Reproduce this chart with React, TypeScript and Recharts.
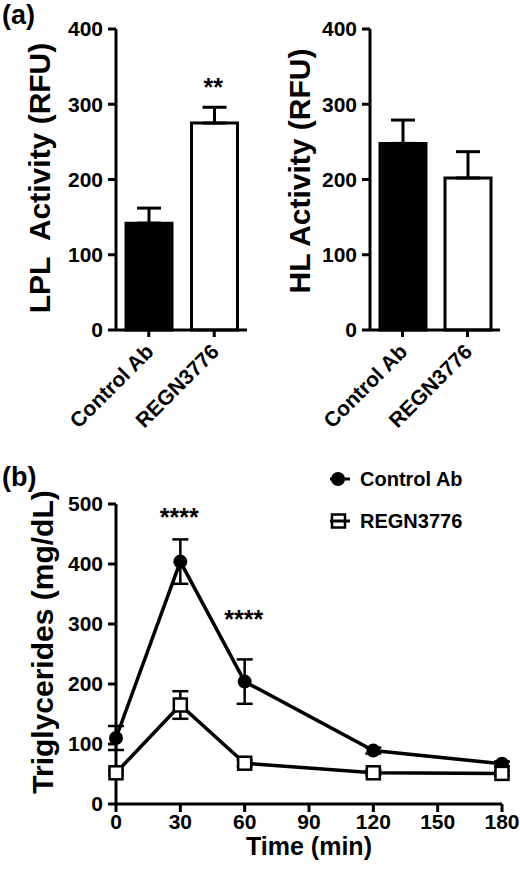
import React from "react";
import {
  BarChart,
  Bar,
  Cell,
  XAxis,
  YAxis,
  ErrorBar,
  ReferenceDot,
  LineChart,
  Line,
} from "recharts";

// panel (a)
const groups = ["Control Ab", "REGN3776"];
const groupFills = ["#000000", "#ffffff"];
const lplMean = [142, 275];
const lplSem = [20, 21];
const lplStars = ["", "**"];
const hlMean = [248, 202];
const hlSem = [31, 35];
const activityTicks = [0, 100, 200, 300, 400];

// panel (b)
const times = [0, 30, 60, 120, 180];
const controlTg = [110, 404, 204, 89, 67];
const controlErr = [20, 37, 37, 5, 4];
const regnTg = [52, 165, 68, 52, 51];
const regnErr = [4, 23, 5, 4, 4];
const timeTicks = [0, 30, 60, 90, 120, 150, 180];
const tgTicks = [0, 100, 200, 300, 400, 500];
const starTimes = [30, 60];
const starLevels = [482, 312];
const seriesNames = ["Control Ab", "REGN3776"];
const seriesShapes = ["circle", "square"];

const FONT = "'Liberation Sans', Arial, Helvetica, sans-serif";
const INK = "#000000";

const tickStyle = { fontSize: 21, fontWeight: 700, fill: INK, fontFamily: FONT };
const axisLine = { stroke: INK, strokeWidth: 3 };
const tickLine = { stroke: INK, strokeWidth: 3 };

const lplData = groups.map((g, i) => ({
  group: g,
  mean: lplMean[i],
  err: [0, lplSem[i]],
  star: lplStars[i],
}));
const hlData = groups.map((g, i) => ({ group: g, mean: hlMean[i], err: [0, hlSem[i]] }));
const tgData = times.map((t, i) => ({
  t,
  control: controlTg[i],
  controlErr: controlErr[i],
  regn: regnTg[i],
  regnErr: regnErr[i],
}));

const SlantTick = ({ x, y, payload }: any) => {
  const ex = x + 6;
  const ey = y + 14;
  return (
    <text
      x={ex}
      y={ey}
      transform={`rotate(-45 ${ex} ${ey})`}
      textAnchor="end"
      style={tickStyle}
    >
      {payload.value}
    </text>
  );
};

const Star = ({ viewBox, value }: any) => (
  <text
    x={viewBox.x}
    y={viewBox.y + 12}
    textAnchor="middle"
    style={{ fontSize: 25, fontWeight: 700, fill: INK, fontFamily: FONT }}
  >
    {value}
  </text>
);

const CircleDot = ({ cx, cy }: any) => <circle cx={cx} cy={cy} r={7} fill={INK} />;
const SquareDot = ({ cx, cy }: any) => (
  <rect x={cx - 6.5} y={cy - 6.5} width={13} height={13} fill="#fff" stroke={INK} strokeWidth={2.5} />
);

const TgLegend = () => (
  <div style={{ fontFamily: FONT, fontWeight: 700, fontSize: 20, color: INK }}>
    {seriesNames.map((name, i) => (
      <div key={name} style={{ display: "flex", alignItems: "center", height: 42 }}>
        <svg width={30} height={20} style={{ marginRight: 2 }}>
          {seriesShapes[i] === "circle" ? (
            <>
              <line x1={2} y1={10} x2={22} y2={10} stroke={INK} strokeWidth={3} />
              <circle cx={10} cy={10} r={7} fill={INK} />
            </>
          ) : (
            <>
              <rect x={4} y={3.5} width={13} height={13} fill="#fff" stroke={INK} strokeWidth={2.5} />
              <line x1={2} y1={10} x2={22} y2={10} stroke={INK} strokeWidth={3} />
            </>
          )}
        </svg>
        <span>{name}</span>
      </div>
    ))}
  </div>
);

function ActivityChart({ data, width, yWidth, right, stars }: any) {
  return (
    <BarChart
      width={width}
      height={440}
      data={data}
      margin={{ top: 29, right, left: 0, bottom: 0 }}
      style={{ fontFamily: FONT }}
    >
      <XAxis
        dataKey="group"
        height={110}
        interval={0}
        tick={<SlantTick />}
        tickSize={7}
        axisLine={axisLine}
        tickLine={tickLine}
      />
      <YAxis
        width={yWidth}
        domain={[0, 400]}
        ticks={activityTicks}
        tick={tickStyle}
        tickSize={8}
        tickMargin={5}
        axisLine={axisLine}
        tickLine={tickLine}
      />
      <Bar dataKey="mean" barSize={46} stroke={INK} strokeWidth={3} isAnimationActive={false}>
        {data.map((d: any, i: number) => (
          <Cell key={d.group} fill={groupFills[i]} />
        ))}
        <ErrorBar dataKey="err" width={12} stroke={INK} strokeWidth={3} direction="y" />
      </Bar>
      {stars &&
        data
          .filter((d: any) => d.star)
          .map((d: any) => (
            <ReferenceDot
              key={d.group}
              x={d.group}
              y={d.mean + d.err[1] + 30}
              r={1}
              fill="none"
              stroke="none"
              label={<Star value={d.star} />}
            />
          ))}
    </BarChart>
  );
}

export default function App() {
  return (
    <div
      style={{
        position: "absolute",
        left: 0,
        top: 0,
        width: 520,
        height: 871,
        background: "#fff",
        overflow: "hidden",
      }}
    >
      <div style={{ position: "absolute", left: 0, top: 0 }}>
        <ActivityChart data={lplData} width={260} yWidth={116} right={13} stars />
      </div>
      <div style={{ position: "absolute", left: 260, top: 0 }}>
        <ActivityChart data={hlData} width={260} yWidth={110} right={20} />
      </div>
      <div style={{ position: "absolute", left: 0, top: 440 }}>
        <LineChart
          width={520}
          height={431}
          data={tgData}
          margin={{ top: 64, right: 18, left: 0, bottom: 0 }}
          style={{ fontFamily: FONT }}
        >
          <XAxis
            dataKey="t"
            type="number"
            domain={[0, 180]}
            ticks={timeTicks}
            height={67}
            tick={tickStyle}
            tickSize={8}
            tickMargin={2}
            axisLine={axisLine}
            tickLine={tickLine}
          />
          <YAxis
            width={116}
            domain={[0, 500]}
            ticks={tgTicks}
            tick={tickStyle}
            tickSize={8}
            tickMargin={5}
            axisLine={axisLine}
            tickLine={tickLine}
          />
          <Line
            name="Control Ab"
            dataKey="control"
            stroke={INK}
            strokeWidth={3.5}
            dot={<CircleDot />}
            isAnimationActive={false}
          >
            <ErrorBar dataKey="controlErr" width={8} stroke={INK} strokeWidth={2.5} direction="y" />
          </Line>
          <Line
            name="REGN3776"
            dataKey="regn"
            stroke={INK}
            strokeWidth={3.5}
            dot={<SquareDot />}
            isAnimationActive={false}
          >
            <ErrorBar dataKey="regnErr" width={8} stroke={INK} strokeWidth={2.5} direction="y" />
          </Line>
          {starTimes.map((t, i) => (
            <ReferenceDot
              key={t}
              x={t}
              y={starLevels[i]}
              r={1}
              fill="none"
              stroke="none"
              label={<Star value="****" />}
            />
          ))}
        </LineChart>
      </div>
      <div style={{ position: "absolute", left: 328, top: 458 }}>
        <TgLegend />
      </div>
      <svg
        width={520}
        height={871}
        style={{ position: "absolute", left: 0, top: 0, pointerEvents: "none" }}
        fontFamily={FONT}
        fontWeight={700}
        fill={INK}
      >
        <text x={2} y={24} fontSize={27}>(a)</text>
        <text x={2} y={486} fontSize={27}>(b)</text>
        <text x={50} y={178} fontSize={30} textAnchor="middle" transform="rotate(-90 50 178)">
          {"LPL\u00a0 Activity (RFU)"}
        </text>
        <text x={310} y={171} fontSize={30} textAnchor="middle" transform="rotate(-90 310 171)">
          HL Activity (RFU)
        </text>
        <text x={53} y={642} fontSize={30} textAnchor="middle" transform="rotate(-90 53 642)">
          Triglycerides (mg/dL)
        </text>
        <text x={309} y={855} fontSize={25} textAnchor="middle">
          Time (min)
        </text>
      </svg>
    </div>
  );
}
